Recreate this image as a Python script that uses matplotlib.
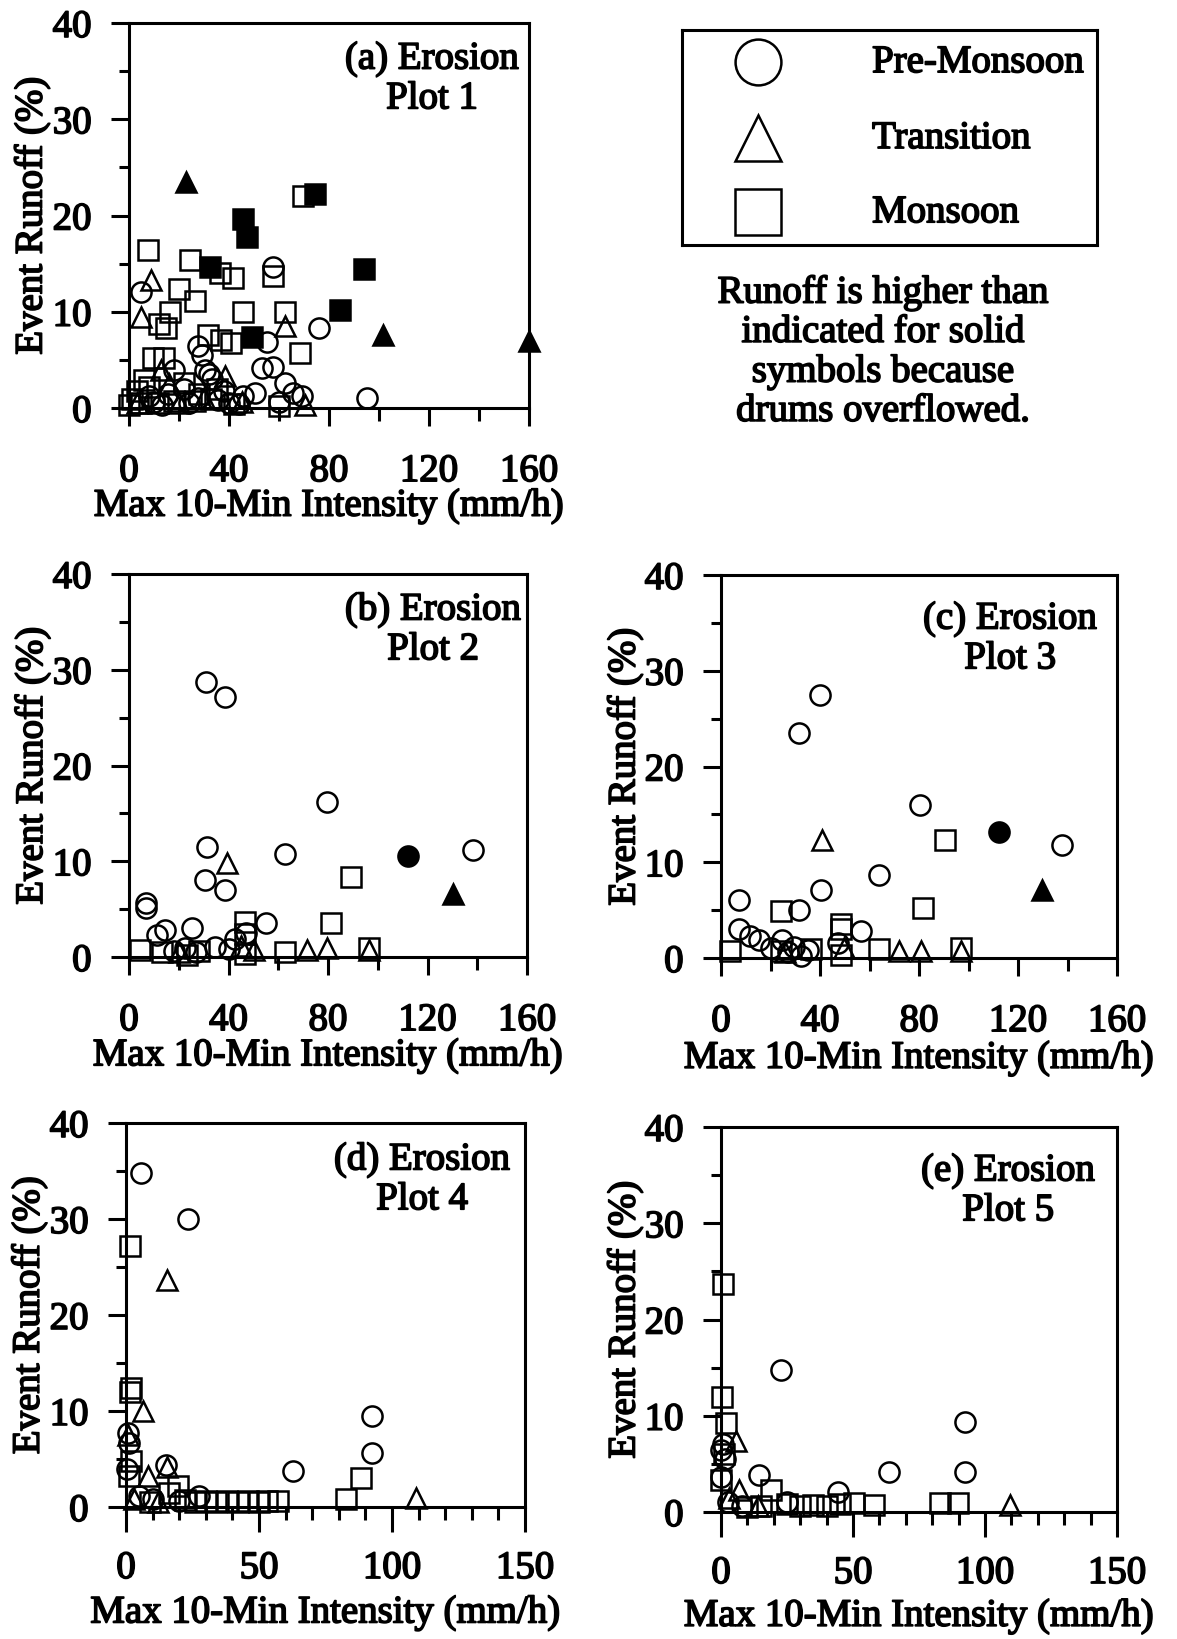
import matplotlib
matplotlib.use("Agg")
import matplotlib.pyplot as plt
import matplotlib.patheffects as pe
from matplotlib.text import Text
from matplotlib.ticker import MultipleLocator

plt.rcParams['font.family'] = ['Liberation Serif', 'DejaVu Serif']
plt.rcParams['font.size'] = 28

# ---- data: max 10-min intensity (mm/h) vs event runoff (%)
# plot 1
a_pre_x = [4.7, 75.8, 57.7, 55, 27.5, 53, 57.7, 18.1, 30.2, 62.4, 95.2, 50.3, 45.6, 69, 65.7,
           15.6, 27.5, 35.7, 40, 10, 22, 33, 8, 29, 32, 24, 44, 60, 13, 38]
a_pre_y = [12.1, 8.3, 14.7, 6.9, 6.4, 4.2, 4.3, 4.0, 4.0, 2.6, 1.0, 1.6, 1.2, 1.2, 1.6,
           1.5, 1.0, 0.8, 0.5, 0.6, 2.0, 3.0, 1.2, 5.5, 3.5, 0.5, 0.4, 0.6, 0.3, 1.8]
a_tra_x = [8.7, 4.7, 62.4, 38.2, 12.7, 70.4, 20, 30, 3, 16, 45]
a_tra_y = [13.3, 9.5, 8.5, 3.3, 4.0, 0.3, 0.5, 1.0, 0.5, 2.5, 0.6]
a_tra_sx = [22.8, 101.5, 160]
a_tra_sy = [23.5, 7.6, 7.0]
a_mon_x = [7.4, 24.5, 36.2, 41.6, 20.1, 26.4, 16.4, 45.6, 62.4, 12.1, 14.8, 68.4, 31.5, 36.9,
           40.9, 57.7, 9.4, 14.1, 6.0, 1.3, 0, 4.7, 11.4, 18.1, 26.2, 32.9, 69.7, 60, 42,
           3, 8, 22, 28, 35]
a_mon_y = [16.4, 15.4, 14.0, 13.5, 12.4, 11.1, 10.0, 10.0, 10.0, 8.7, 8.3, 5.7, 7.6, 7.1,
           6.8, 13.7, 5.2, 5.2, 2.9, 0.9, 0.3, 0.5, 0.5, 0.7, 0.7, 0.9, 22.0, 0.2, 0.4,
           1.8, 2.2, 2.6, 1.5, 2.0]
a_mon_sx = [74.4, 45.6, 47.3, 32.2, 93.9, 84.2, 49.2]
a_mon_sy = [22.2, 19.6, 17.8, 14.7, 14.4, 10.2, 7.4]

# plot 2
b_pre_x = [30.9, 38.7, 79.7, 31.3, 62.7, 138.2, 30.7, 38.7, 6.7, 6.7, 54.9, 25.3, 14.5, 11.2,
           42.8, 34.7, 22.6, 27, 47, 18, 40]
b_pre_y = [28.7, 27.2, 16.2, 11.5, 10.8, 11.2, 8.0, 7.0, 5.6, 5.1, 3.5, 3.0, 2.8, 2.3,
           1.9, 1.0, 0.9, 0.5, 2.5, 0.6, 0.8]
b_pre_sx = [112.3]
b_pre_sy = [10.6]
b_tra_x = [39.4, 71.7, 79.7, 96.5, 50.2, 20, 45]
b_tra_y = [9.8, 0.7, 0.9, 0.7, 0.7, 0.5, 1.2]
b_tra_sx = [130.1]
b_tra_sy = [6.6]
b_mon_x = [89.1, 81.1, 46.8, 62.9, 96.5, 4.4, 13.2, 23.3, 46.8, 46.8, 28]
b_mon_y = [8.4, 3.5, 3.7, 0.5, 0.9, 0.7, 0.5, 0.2, 0.3, 2.4, 0.6]

# plot 3
c_pre_x = [40.0, 31.5, 80.6, 137.7, 64.0, 40.3, 7.2, 31.5, 56.5, 7.2, 11.9, 15.3, 24.8, 29.5,
           32.2, 47.1, 20, 35, 27]
c_pre_y = [27.5, 23.5, 16.0, 11.8, 8.7, 7.1, 6.1, 5.0, 2.8, 3.0, 2.3, 1.9, 1.9, 1.2,
           0.2, 1.6, 1.0, 0.8, 0.6]
c_pre_sx = [112.4]
c_pre_sy = [13.2]
c_tra_x = [41.0, 72.1, 80.9, 97.1, 49.8, 26]
c_tra_y = [12.3, 0.7, 0.7, 0.7, 1.0, 0.6]
c_tra_sx = [129.6]
c_tra_sy = [7.1]
c_mon_x = [90.6, 81.8, 24.1, 48.4, 48.4, 64.0, 97.1, 3.8, 48.4, 24.1, 36.2]
c_mon_y = [12.3, 5.2, 4.9, 3.5, 3.0, 0.9, 1.0, 0.7, 0.3, 0.7, 0.9]

# plot 4
d_pre_x = [5.6, 23.2, 92.3, 92.3, 62.8, 0.6, 1.3, 15.1, 27.6, 5.0, 10, 20, 0.5]
d_pre_y = [34.8, 30.0, 9.5, 5.6, 3.7, 7.7, 6.7, 4.4, 1.1, 1.1, 0.8, 0.6, 4]
d_tra_x = [15.3, 6.3, 109.2, 15.3, 8.2, 0.6, 3, 12]
d_tra_y = [23.6, 10.0, 0.9, 4.2, 3.2, 7.5, 0.8, 0.5]
d_mon_x = [1.5, 1.9, 1.5, 88.5, 82.8, 1.9, 1.3, 19.5, 57.1, 30, 34, 38, 42, 46, 50, 53,
           16.3, 22, 26, 9]
d_mon_y = [27.2, 12.4, 12.0, 3.0, 0.8, 4.8, 3.2, 2.2, 0.6, 0.6, 0.5, 0.6, 0.5, 0.6, 0.5, 0.6,
           1.5, 0.7, 0.5, 0.5]

# plot 5
e_pre_x = [22.7, 92.3, 92.3, 63.6, 14.3, 44.2, 0.0, 0.6, 0.0, 2.5, 1.5, 25, 8]
e_pre_y = [14.8, 9.4, 4.2, 4.2, 3.8, 2.1, 6.4, 7.1, 3.6, 1.0, 5.5, 1.0, 0.6]
e_tra_x = [5.7, 109.3, 7.0, 14, 3]
e_tra_y = [7.4, 0.7, 2.3, 0.6, 1.5]
e_mon_x = [0.9, 0.4, 1.9, 19.0, 82.8, 89.7, 58.1, 50.5, 0.0, 10, 15, 25, 30, 35, 40, 45, 1.0]
e_mon_y = [23.7, 11.9, 9.2, 2.3, 0.9, 0.9, 0.7, 0.9, 3.3, 0.5, 0.6, 0.8, 0.6, 0.7, 0.6, 0.8, 6.0]

titles = ["(a) Erosion\nPlot 1", "(b) Erosion\nPlot 2", "(c) Erosion\nPlot 3",
          "(d) Erosion\nPlot 4", "(e) Erosion\nPlot 5"]
season_labels = ["Pre-Monsoon", "Transition", "Monsoon"]
note = "Runoff is higher than\nindicated for solid\nsymbols because\ndrums overflowed."

W, H = 1177, 1639
fig = plt.figure(figsize=(W / 100, H / 100), dpi=100)


def box(l, r, t, b):
    return [l / W, 1 - b / H, (r - l) / W, (b - t) / H]


LW = 2.2
MS = 14.5
MEW = 1.8


def pts(ax, x, y, m, solid=False):
    ax.plot(x, y, linestyle='none', marker=m, ms=MS, mew=MEW, mec='black',
            mfc='black' if solid else 'none', clip_on=False, zorder=3)


def setup(ax, xmax, xmaj, xmin, title, tpos, xl_y, big):
    ax.set_xlim(0, xmax)
    ax.set_ylim(0, 40)
    ax.xaxis.set_major_locator(MultipleLocator(xmaj))
    ax.xaxis.set_minor_locator(MultipleLocator(xmin))
    ax.yaxis.set_major_locator(MultipleLocator(10))
    ax.yaxis.set_minor_locator(MultipleLocator(5))
    for s in ax.spines.values():
        s.set_linewidth(LW)
    ax.tick_params(axis='both', which='both', direction='out', width=LW, top=False, right=False)
    ax.tick_params(axis='x', which='major', length=18 if big else 13, pad=13 if big else 19.5)
    ax.tick_params(axis='x', which='minor', length=9)
    ax.tick_params(axis='y', which='major', length=13, pad=14)
    ax.tick_params(axis='y', which='minor', length=7)
    ax.set_xlabel("Max 10-Min Intensity (mm/h)", va='center')
    ax.xaxis.set_label_coords(0.5, -xl_y)
    ax.set_ylabel("Event Runoff (%)", va='center')
    ax.yaxis.set_label_coords(-0.2425, 0.5)
    ax.text(tpos[0], tpos[1], title, transform=ax.transAxes, ha='center', va='center',
            multialignment='center', linespacing=1.1)


# panel (a)
ax = fig.add_axes(box(129, 529, 23, 408))
pts(ax, a_pre_x, a_pre_y, 'o')
pts(ax, a_tra_x, a_tra_y, '^')
pts(ax, a_mon_x, a_mon_y, 's')
pts(ax, a_tra_sx, a_tra_sy, '^', True)
pts(ax, a_mon_sx, a_mon_sy, 's', True)
setup(ax, 160, 40, 20, titles[0], (0.7575, 0.8545), 0.255, False)

# panel (b)
ax = fig.add_axes(box(129, 527, 574, 957))
pts(ax, b_pre_x, b_pre_y, 'o')
pts(ax, b_tra_x, b_tra_y, '^')
pts(ax, b_mon_x, b_mon_y, 's')
pts(ax, b_pre_sx, b_pre_sy, 'o', True)
pts(ax, b_tra_sx, b_tra_sy, '^', True)
setup(ax, 160, 40, 20, titles[1], (0.764, 0.854), 0.258, False)

# panel (c)
ax = fig.add_axes(box(721, 1117, 575, 958))
pts(ax, c_pre_x, c_pre_y, 'o')
pts(ax, c_tra_x, c_tra_y, '^')
pts(ax, c_mon_x, c_mon_y, 's')
pts(ax, c_pre_sx, c_pre_sy, 'o', True)
pts(ax, c_tra_sx, c_tra_sy, '^', True)
setup(ax, 160, 40, 20, titles[2], (0.730, 0.833), 0.262, False)

# panel (d)
ax = fig.add_axes(box(126, 525, 1123, 1507))
pts(ax, d_pre_x, d_pre_y, 'o')
pts(ax, d_tra_x, d_tra_y, '^')
pts(ax, d_mon_x, d_mon_y, 's')
setup(ax, 150, 50, 10, titles[3], (0.742, 0.852), 0.276, True)

# panel (e)
ax = fig.add_axes(box(721, 1117, 1127, 1512))
pts(ax, e_pre_x, e_pre_y, 'o')
pts(ax, e_tra_x, e_tra_y, '^')
pts(ax, e_mon_x, e_mon_y, 's')
setup(ax, 150, 50, 10, titles[4], (0.725, 0.834), 0.271, True)

# legend box
lg = fig.add_axes(box(682, 1097, 30, 245))
lg.set_xlim(0, 1)
lg.set_ylim(0, 1)
lg.set_xticks([])
lg.set_yticks([])
for s in lg.spines.values():
    s.set_linewidth(LW)
for m, yy, lab in zip(['o', '^', 's'], [0.851, 0.498, 0.153], season_labels):
    lg.plot([0.183], [yy], linestyle='none', marker=m, ms=33, mew=MEW, mec='black', mfc='none')
    lg.text(0.458, yy - 0.003, lab, ha='left', va='center')

fig.text(883 / W, 1 - 352 / H, note, ha='center', va='center', multialignment='center',
         linespacing=1.08)

# heavier ink, like the printed original
for t in fig.findobj(Text):
    t.set_path_effects([pe.withStroke(linewidth=1.2, foreground='black')])

fig.savefig("out.png", dpi=100)
